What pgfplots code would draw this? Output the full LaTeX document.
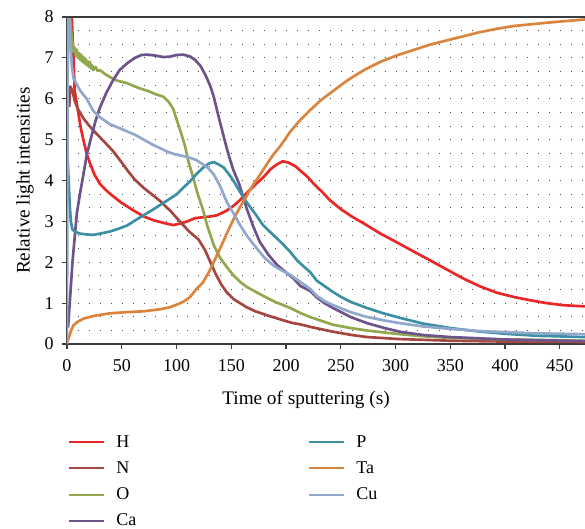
\documentclass[border=0pt]{standalone}
\usepackage{fontspec}
\setmainfont{Liberation Serif}
\usepackage{pgfplots}
\pgfplotsset{compat=1.18}

\definecolor{cH}{RGB}{234,38,38}
\definecolor{cN}{RGB}{165,70,65}
\definecolor{cO}{RGB}{145,168,78}
\definecolor{cCa}{RGB}{110,82,140}
\definecolor{cP}{RGB}{60,143,165}
\definecolor{cTa}{RGB}{218,132,62}
\definecolor{cCu}{RGB}{145,168,205}
\definecolor{axcol}{RGB}{60,60,60}
\newcommand\lbl{\fontsize{13.5}{16}\selectfont}
\newcommand\albl{\fontsize{14.4}{17}\selectfont}

\begin{document}
\begin{tikzpicture}
\useasboundingbox (-50.25pt,-138pt) rectangle (388.5pt,258pt);
\begin{axis}[
    name=ax, at={(0,0)}, anchor=south west,
    scale only axis, width=388.5pt, height=245.25pt,
    xmin=0, xmax=473, ymin=0, ymax=8,
    axis lines*=left,
    axis line style={axcol, line width=0.9pt, -},
    xtick={0,50,...,450}, ytick={0,...,8},
    tick align=outside, major tick length=3.5pt, minor tick length=0pt,
    tick style={axcol, line width=0.9pt},
    minor y tick num=2,
    ymajorgrids, yminorgrids,
    grid style={dash pattern=on 0.75pt off 7.4635pt, line width=0.75pt, black!70},
    minor grid style={dash pattern=on 0.75pt off 7.4635pt, line width=0.75pt, black!70},
    /pgf/number format/assume math mode=true,
    tick label style={font=\lbl},
    xticklabel style={yshift=-4.5pt},
    yticklabel style={xshift=-3pt},
    xlabel={Time of sputtering (s)},
    ylabel={Relative light intensities},
    label style={font=\albl},
    xlabel style={at={(axis description cs:0.4614,-0.17)}, anchor=center},
    ylabel style={at={(axis description cs:-0.081,0.5)}, anchor=center},
    legend columns=2,
    legend cell align=left,
    legend style={draw=none, fill=none, font=\lbl,
        at={(axis description cs:0.002,-0.279)}, anchor=north west,
        inner sep=0pt, row sep=9.2pt, nodes={inner sep=0pt},
        /tikz/every odd column/.append style={column sep=8.25pt},
        /tikz/every even column/.append style={column sep=129pt}},
    legend image code/.code={\draw[#1] (0pt,0pt) -- (26.25pt,0pt);},
    every axis plot/.append style={line width=2pt, line join=round},
]
% H
\addplot[cH, forget plot] coordinates {
(3.5,8.5) (6,7.0) (7,6.2) (8.5,5.95) (10,5.7) (12.5,5.3) (15,4.99) (18,4.65)
(21,4.42) (25,4.15) (30,3.92) (35,3.78) (40,3.66) (50,3.45) (60,3.28) (70,3.12)
(80,3.02) (90,2.95) (97,2.91) (104,2.95) (110,3.0) (117,3.08) (124,3.1) (131,3.12)
(137,3.15) (145,3.25) (152,3.38) (158,3.52) (164,3.69) (172,3.9) (180,4.1)
(186,4.28) (192,4.4) (197,4.47) (202,4.44) (208,4.36) (214,4.22) (220,4.08)
(226,3.9) (233,3.72) (240,3.52) (250,3.3) (260,3.12) (271,2.95) (285,2.72)
(301,2.49) (316,2.27) (332,2.04) (347,1.82) (362,1.6) (378,1.4) (393,1.25)
(408,1.15) (423,1.07) (438,1.0) (453,0.95) (473,0.92)
};
% N
\addplot[cN, forget plot] coordinates {
(2,5.8) (3,6.3) (5,6.2) (7,5.95) (10,5.75) (15,5.52) (20,5.35) (25,5.2) (30,5.06)
(35,4.92) (42,4.72) (50,4.44) (56,4.22) (62,4.02) (70,3.82) (85,3.5) (95,3.24)
(103,3.0) (112,2.74) (120,2.56) (126,2.3) (131,2.0) (136,1.7) (141,1.45)
(146,1.26) (152,1.1) (158,1.0) (164,0.9) (172,0.8) (183,0.7) (195,0.6)
(205,0.52) (213,0.48) (222,0.42) (243,0.3) (260,0.22) (274,0.17) (304,0.12)
(350,0.08) (400,0.06) (473,0.05)
};
% O
\addplot[cO, forget plot] coordinates {
(1.5,8.6) (3,7.9) (4.5,7.45) (6,7.15) (7,7.25) (8,7.05) (9,7.2) (10,7.0)
(11,7.12) (12,6.95) (13,7.08) (14,6.9) (15,7.02) (16,6.86) (17,6.98) (18,6.82)
(19,6.92) (20,6.78) (21,6.9) (22,6.74) (23,6.82) (24,6.7) (26,6.78) (28,6.68)
(30,6.7) (35,6.6) (40,6.52) (45,6.45) (55,6.38) (62,6.3) (67,6.25) (75,6.18)
(80,6.12) (88,6.05) (93,5.92) (97,5.75) (100,5.5) (104,5.18) (108,4.82)
(111,4.45) (115,4.1) (119,3.7) (124,3.3) (128,2.9) (134,2.42) (140,2.1)
(146,1.88) (152,1.68) (158,1.52) (164,1.4) (172,1.28) (179,1.18) (190,1.03)
(204,0.88) (213,0.76) (222,0.66) (243,0.47) (259,0.39) (274,0.33) (290,0.28)
(304,0.24) (325,0.19) (350,0.15) (400,0.11) (473,0.08)
};
% Ca
\addplot[cCa, forget plot] coordinates {
(1,0.4) (3,1.2) (5,2.0) (7,2.6) (9,3.2) (12,3.7) (15,4.15) (18,4.62) (22,5.05)
(26,5.45) (30,5.78) (36,6.15) (42,6.45) (48,6.7) (55,6.87) (62,7.0) (68,7.07)
(73,7.08) (80,7.06) (88,7.02) (94,7.03) (100,7.07) (106,7.08) (112,7.04)
(117,6.95) (122,6.8) (127,6.55) (131,6.3) (134,6.05) (137,5.72) (140,5.4)
(143,5.08) (146,4.78) (149,4.5) (152,4.25) (157,3.93) (164,3.32) (170,2.88)
(176,2.5) (184,2.18) (192,1.93) (200,1.75) (207,1.6) (213,1.42) (222,1.3)
(228,1.14) (235,1.0) (243,0.88) (259,0.66) (274,0.51) (290,0.39) (304,0.3)
(325,0.22) (350,0.17) (400,0.11) (473,0.07)
};
% P
\addplot[cP, forget plot] coordinates {
(0.5,4.6) (1.5,4.0) (2.5,3.4) (3.5,3.0) (5,2.8) (8,2.74) (12,2.7) (18,2.68)
(24,2.67) (30,2.7) (39,2.75) (47,2.82) (55,2.9) (62,3.02) (70,3.15) (78,3.28)
(85,3.4) (92,3.52) (100,3.66) (106,3.82) (112,3.97) (119,4.18) (125,4.33)
(130,4.42) (134,4.45) (138,4.4) (143,4.32) (148,4.15) (153,3.95) (158,3.72)
(164,3.47) (172,3.18) (179,2.91) (187,2.7) (195,2.5) (203,2.28) (210,2.05)
(216,1.9) (222,1.76) (228,1.55) (235,1.42) (243,1.27) (251,1.14) (259,1.03)
(267,0.95) (274,0.88) (289,0.75) (304,0.64) (325,0.5) (350,0.39) (375,0.31)
(400,0.25) (430,0.2) (473,0.17)
};
% Ta
\addplot[cTa, forget plot] coordinates {
(0.5,0.05) (2,0.18) (4,0.35) (6,0.46) (10,0.55) (15,0.62) (25,0.69) (39,0.75)
(55,0.78) (70,0.8) (85,0.85) (94,0.9) (100,0.96) (106,1.03) (112,1.14)
(119,1.37) (124,1.5) (130,1.78) (134,2.0) (140,2.35) (146,2.71) (152,3.05)
(158,3.35) (164,3.62) (170,3.9) (176,4.13) (182,4.38) (188,4.62) (195,4.85)
(204,5.2) (213,5.48) (222,5.72) (232,5.97) (240,6.13) (256,6.45) (271,6.7)
(286,6.9) (300,7.05) (316,7.19) (331,7.32) (347,7.43) (362,7.53) (377,7.63)
(392,7.71) (408,7.78) (423,7.82) (438,7.86) (455,7.9) (473,7.94)
};
% Cu
\addplot[cCu, forget plot] coordinates {
(0,0) (0.8,8.6) (2,7.9) (3,7.4) (4.4,6.8) (6,6.5) (9,6.35) (12,6.2) (18,6.0)
(24,5.7) (30,5.55) (39,5.38) (48,5.28) (55,5.2) (62,5.12) (70,5.0) (78,4.88)
(85,4.79) (93,4.69) (100,4.63) (106,4.6) (112,4.56) (118,4.5) (124,4.4)
(129,4.3) (134,4.15) (140,3.85) (146,3.47) (152,3.2) (158,2.91) (165,2.62)
(173,2.35) (180,2.12) (188,1.93) (196,1.8) (204,1.69) (213,1.52) (222,1.35)
(228,1.18) (235,1.05) (243,0.95) (259,0.78) (274,0.66) (289,0.58) (304,0.51)
(325,0.43) (350,0.37) (375,0.32) (400,0.29) (430,0.26) (473,0.24)
};
% legend (column-wise order)
\addlegendimage{cH, line width=1.5pt}\addlegendentry{H}
\addlegendimage{cP, line width=1.5pt}\addlegendentry{P}
\addlegendimage{cN, line width=1.5pt}\addlegendentry{N}
\addlegendimage{cTa, line width=1.5pt}\addlegendentry{Ta}
\addlegendimage{cO, line width=1.5pt}\addlegendentry{O}
\addlegendimage{cCu, line width=1.5pt}\addlegendentry{Cu}
\addlegendimage{cCa, line width=1.5pt}\addlegendentry{Ca}
\end{axis}
\draw[axcol, line width=0.9pt] (ax.north west) -- (ax.north east);
\end{tikzpicture}
\end{document}
